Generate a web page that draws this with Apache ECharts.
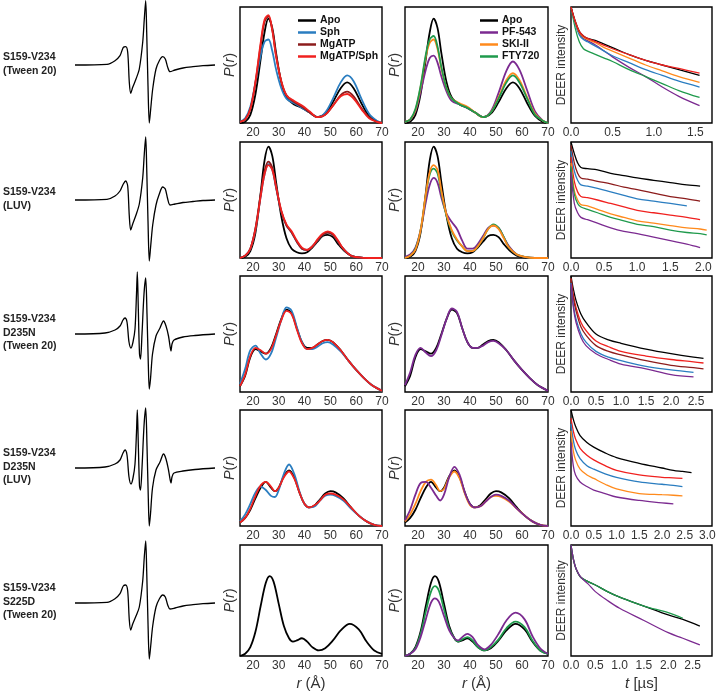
<!DOCTYPE html>
<html>
<head>
<meta charset="utf-8">
<script src="https://cdn.jsdelivr.net/npm/echarts@6/dist/echarts.min.js"></script>
<style>
  html, body { margin: 0; padding: 0; background: #fff; }
  #chart { width: 720px; height: 692px; }
</style>
</head>
<body>
<div id="chart"></div>
<script>
// ---- sample labels ----
const sampleLabels = [
  'S159-V234\n(Tween 20)',
  'S159-V234\n(LUV)',
  'S159-V234\nD235N\n(Tween 20)',
  'S159-V234\nD235N\n(LUV)',
  'S159-V234\nS225D\n(Tween 20)'
];

// ---- EPR spectra (field offset, intensity) ----
const eprField1 = [0, 32, 40, 45, 48.3, 50.7, 52.7, 54.3, 55.7, 57.7, 61, 64.3, 67.7, 69.3, 70.7, 71.7, 73, 74.3, 75.7, 77.7, 81, 84.3, 87.7, 90.3, 92.7, 95, 100, 108, 118, 128, 140];
const eprSig1 = [0, 0.7, 4.3, 9.3, 17.7, 18.3, 12.7, -17.3, -28.3, -22.3, -14, -4, 22.7, 46, 64.3, 32.7, -20.7, -58, -44, -24, -4, 4.3, 8.3, 6, -2.3, -6.7, -5, -3, -1.7, -0.7, 0];
const eprSig2 = [0, 0.7, 4, 9, 16, 19, 14, -16, -30, -24, -15, -4, 22, 46, 63, 32, -21, -61, -46, -25, -5, 6, 13, 11, 1, -5, -4, -2.5, -1.5, -0.5, 0];
const eprSig5 = [0, 0.7, 4.3, 9.3, 17, 18, 12, -17, -27, -21, -13, -4, 22, 46, 62, 32, -20, -56, -43, -23, -4, 4, 8, 6, -2, -6, -5, -3, -1.7, -0.7, 0];
const eprField3 = [0, 30, 40, 45, 48, 50, 52, 54, 56, 58, 60, 61.5, 62.3, 63.2, 64.5, 65.5, 67, 69, 70.7, 72, 73.3, 74.3, 75.5, 77.5, 81, 85, 88.5, 91, 93.5, 95, 96, 97, 99, 108, 120, 140];
const eprSig3 = [0, 1, 4, 8, 14, 16, 12, -8, -14, -8, 5, 40, 62, 30, -20, -25, 0, 40, 56, 20, -30, -55, -45, -20, -2, 6, 13, 8, -2, -12, -17, -10, -6, -3, -1.5, 0];
const eprSig4 = [0, 1, 4, 8, 15, 18, 13, -9, -16, -10, 4, 36, 58, 28, -18, -22, 0, 42, 60, 22, -30, -58, -46, -20, -2, 6, 14, 9, -2, -11, -15, -9, -5, -3, -1.5, 0];

// ---- distance distributions P(r) ----
const r1 = [15, 17, 19, 21, 23, 24.5, 26, 27.5, 29, 31, 33, 36, 39, 42, 45, 48, 51, 54, 56.5, 59, 62, 65, 68, 70];
const p1Apo = [0, 0.01, 0.07, 0.25, 0.55, 0.78, 0.90, 0.82, 0.60, 0.35, 0.22, 0.16, 0.13, 0.09, 0.05, 0.08, 0.18, 0.30, 0.35, 0.30, 0.17, 0.06, 0.01, 0];
const p1Sph = [0.01, 0.04, 0.14, 0.35, 0.58, 0.70, 0.72, 0.62, 0.46, 0.30, 0.21, 0.17, 0.13, 0.09, 0.05, 0.09, 0.21, 0.35, 0.41, 0.36, 0.21, 0.08, 0.02, 0];
const p1Atp = [0.01, 0.03, 0.12, 0.35, 0.67, 0.87, 0.92, 0.80, 0.58, 0.36, 0.24, 0.18, 0.14, 0.09, 0.05, 0.07, 0.15, 0.24, 0.27, 0.23, 0.13, 0.05, 0.01, 0];
const p1AtpSph = [0.01, 0.03, 0.12, 0.36, 0.69, 0.89, 0.93, 0.80, 0.57, 0.36, 0.24, 0.19, 0.15, 0.10, 0.05, 0.07, 0.15, 0.23, 0.25, 0.21, 0.12, 0.04, 0.01, 0];
const p1Pf = [0.01, 0.03, 0.10, 0.27, 0.46, 0.56, 0.58, 0.52, 0.40, 0.27, 0.19, 0.16, 0.13, 0.09, 0.05, 0.10, 0.26, 0.45, 0.53, 0.46, 0.28, 0.10, 0.02, 0];
const p1Ski = [0.01, 0.03, 0.11, 0.31, 0.57, 0.69, 0.72, 0.64, 0.47, 0.30, 0.21, 0.17, 0.14, 0.09, 0.05, 0.09, 0.22, 0.37, 0.43, 0.37, 0.22, 0.08, 0.02, 0];
const p1Fty = [0.01, 0.03, 0.12, 0.32, 0.59, 0.72, 0.75, 0.66, 0.48, 0.30, 0.21, 0.16, 0.13, 0.09, 0.05, 0.09, 0.21, 0.35, 0.41, 0.35, 0.21, 0.07, 0.02, 0];

const r2 = [15, 17, 19, 21, 23, 24.5, 26, 27.5, 29, 31, 33, 35, 37, 39, 41, 43, 45, 47, 49, 51, 53, 55, 58, 61, 65, 70];
const p2Apo = [0, 0.01, 0.06, 0.22, 0.56, 0.84, 0.96, 0.88, 0.65, 0.36, 0.17, 0.08, 0.05, 0.04, 0.05, 0.09, 0.14, 0.19, 0.20, 0.18, 0.12, 0.07, 0.02, 0.005, 0, 0];
const p2Sph = [0, 0.02, 0.08, 0.25, 0.53, 0.72, 0.81, 0.76, 0.60, 0.40, 0.28, 0.22, 0.14, 0.08, 0.07, 0.10, 0.15, 0.20, 0.22, 0.20, 0.14, 0.08, 0.02, 0.005, 0, 0];
const p2Atp = [0, 0.02, 0.08, 0.26, 0.55, 0.75, 0.83, 0.78, 0.61, 0.40, 0.28, 0.22, 0.14, 0.08, 0.07, 0.10, 0.15, 0.20, 0.22, 0.20, 0.14, 0.08, 0.02, 0.005, 0, 0];
const p2AtpSph = [0, 0.02, 0.08, 0.25, 0.53, 0.72, 0.80, 0.76, 0.61, 0.41, 0.29, 0.23, 0.15, 0.09, 0.07, 0.10, 0.16, 0.21, 0.23, 0.21, 0.15, 0.08, 0.02, 0.005, 0, 0];
const p2Pf = [0.01, 0.03, 0.09, 0.24, 0.48, 0.63, 0.69, 0.65, 0.52, 0.38, 0.31, 0.25, 0.15, 0.08, 0.08, 0.12, 0.19, 0.26, 0.28, 0.26, 0.18, 0.10, 0.03, 0.01, 0, 0];
const p2Ski = [0, 0.02, 0.07, 0.24, 0.55, 0.74, 0.80, 0.76, 0.58, 0.37, 0.24, 0.16, 0.10, 0.06, 0.06, 0.10, 0.17, 0.25, 0.28, 0.25, 0.17, 0.09, 0.03, 0.01, 0, 0];
const p2Fty = [0, 0.02, 0.08, 0.24, 0.54, 0.72, 0.77, 0.73, 0.56, 0.36, 0.23, 0.15, 0.10, 0.06, 0.06, 0.10, 0.17, 0.25, 0.29, 0.26, 0.18, 0.09, 0.03, 0.01, 0, 0];

const r3 = [15, 17, 19, 21, 23, 25, 27, 29, 31, 33, 35, 37, 39, 41, 43, 45, 47, 49, 51, 54, 57, 60, 63, 66, 70];
const p3Apo = [0.05, 0.14, 0.30, 0.37, 0.35, 0.33, 0.38, 0.50, 0.63, 0.71, 0.68, 0.55, 0.43, 0.38, 0.38, 0.41, 0.44, 0.45, 0.43, 0.36, 0.27, 0.19, 0.12, 0.06, 0.01];
const p3Sph = [0.07, 0.20, 0.36, 0.40, 0.33, 0.28, 0.33, 0.47, 0.62, 0.73, 0.70, 0.56, 0.43, 0.37, 0.37, 0.39, 0.42, 0.43, 0.41, 0.35, 0.27, 0.19, 0.12, 0.06, 0.01];
const p3AtpSph = [0.05, 0.15, 0.31, 0.38, 0.36, 0.33, 0.37, 0.49, 0.62, 0.70, 0.67, 0.54, 0.42, 0.37, 0.38, 0.41, 0.44, 0.45, 0.43, 0.36, 0.27, 0.19, 0.12, 0.06, 0.01];
const p3Pf = [0.06, 0.17, 0.32, 0.38, 0.34, 0.31, 0.36, 0.49, 0.63, 0.72, 0.69, 0.55, 0.43, 0.38, 0.38, 0.40, 0.43, 0.44, 0.42, 0.36, 0.27, 0.19, 0.12, 0.06, 0.01];

const r4 = [15, 17, 19, 21, 23, 25, 27, 28.5, 30, 32, 34, 36, 38, 40, 42, 44, 46, 48, 50, 52, 55, 58, 61, 64, 67, 70];
const p4Apo = [0.03, 0.07, 0.14, 0.24, 0.33, 0.38, 0.33, 0.30, 0.33, 0.43, 0.48, 0.42, 0.29, 0.19, 0.16, 0.18, 0.23, 0.28, 0.30, 0.29, 0.24, 0.16, 0.09, 0.04, 0.01, 0];
const p4Sph = [0.04, 0.10, 0.19, 0.29, 0.34, 0.31, 0.26, 0.25, 0.31, 0.45, 0.53, 0.45, 0.30, 0.19, 0.16, 0.17, 0.22, 0.26, 0.27, 0.26, 0.22, 0.15, 0.09, 0.04, 0.01, 0];
const p4AtpSph = [0.03, 0.07, 0.15, 0.26, 0.35, 0.38, 0.34, 0.30, 0.33, 0.42, 0.47, 0.41, 0.29, 0.19, 0.16, 0.18, 0.22, 0.27, 0.28, 0.27, 0.23, 0.16, 0.09, 0.04, 0.01, 0];
const p4Ski = [0.04, 0.10, 0.19, 0.30, 0.38, 0.40, 0.35, 0.30, 0.32, 0.42, 0.47, 0.41, 0.28, 0.18, 0.16, 0.17, 0.21, 0.25, 0.26, 0.25, 0.21, 0.15, 0.09, 0.04, 0.01, 0];
const p4Pf = [0.05, 0.14, 0.27, 0.37, 0.38, 0.33, 0.26, 0.22, 0.27, 0.42, 0.51, 0.44, 0.29, 0.19, 0.16, 0.17, 0.21, 0.25, 0.27, 0.26, 0.22, 0.15, 0.09, 0.04, 0.01, 0];

const r5 = [15, 17, 19, 21, 23, 25, 26.5, 28, 30, 32, 34, 35.5, 37, 39, 41, 43, 45.5, 48, 51, 54, 57.5, 61, 64, 67, 70];
const p5Apo = [0, 0.02, 0.08, 0.22, 0.45, 0.66, 0.72, 0.67, 0.47, 0.27, 0.16, 0.13, 0.14, 0.16, 0.13, 0.08, 0.05, 0.07, 0.14, 0.23, 0.29, 0.24, 0.13, 0.05, 0.02];
const p5Fty = [0, 0.02, 0.07, 0.20, 0.40, 0.58, 0.63, 0.59, 0.42, 0.25, 0.16, 0.13, 0.15, 0.17, 0.14, 0.08, 0.05, 0.08, 0.15, 0.25, 0.31, 0.26, 0.14, 0.05, 0.02];
const p5Pf = [0, 0.02, 0.06, 0.17, 0.33, 0.48, 0.52, 0.49, 0.36, 0.23, 0.16, 0.14, 0.17, 0.20, 0.17, 0.10, 0.06, 0.10, 0.20, 0.32, 0.39, 0.33, 0.18, 0.07, 0.02];

// ---- DEER traces (time in us, normalised echo) ----
const t1 = [0, 0.05, 0.1, 0.15, 0.2, 0.3, 0.4, 0.5, 0.7, 0.9, 1.1, 1.3, 1.55];
const d1Apo = [1.0, 0.88, 0.79, 0.75, 0.73, 0.71, 0.68, 0.65, 0.59, 0.54, 0.50, 0.46, 0.41];
const d1AtpSph = [1.0, 0.88, 0.79, 0.75, 0.73, 0.70, 0.67, 0.64, 0.59, 0.54, 0.50, 0.47, 0.43];
const d1Ski = [1.0, 0.87, 0.78, 0.74, 0.72, 0.69, 0.65, 0.62, 0.56, 0.50, 0.45, 0.40, 0.35];
const d1Sph = [1.0, 0.86, 0.76, 0.72, 0.70, 0.66, 0.62, 0.58, 0.52, 0.46, 0.41, 0.36, 0.31];
const d1Fty = [1.0, 0.82, 0.70, 0.64, 0.62, 0.59, 0.56, 0.53, 0.46, 0.40, 0.34, 0.28, 0.22];
const d1Pf = [1.0, 0.86, 0.77, 0.73, 0.71, 0.67, 0.62, 0.57, 0.48, 0.40, 0.31, 0.23, 0.15];

const t2 = [0, 0.05, 0.1, 0.15, 0.25, 0.4, 0.6, 0.8, 1.0, 1.25, 1.5, 1.75, 1.95, 2.05];
const d2Apo = [1.0, 0.90, 0.82, 0.78, 0.77, 0.76, 0.73, 0.71, 0.69, 0.67, 0.65, 0.63, 0.62];
const d2Atp = [0.97, 0.82, 0.73, 0.69, 0.68, 0.66, 0.64, 0.61, 0.59, 0.56, 0.53, 0.51, 0.49];
const d2Sph = [0.92, 0.75, 0.67, 0.63, 0.62, 0.60, 0.57, 0.54, 0.51, 0.49, 0.47, 0.45];
const d2AtpSph = [0.87, 0.66, 0.57, 0.53, 0.52, 0.50, 0.47, 0.44, 0.41, 0.39, 0.37, 0.35, 0.33];
const d2Ski = [0.82, 0.58, 0.50, 0.46, 0.45, 0.42, 0.38, 0.35, 0.32, 0.30, 0.28, 0.26, 0.25, 0.24];
const d2Fty = [0.79, 0.55, 0.47, 0.44, 0.42, 0.39, 0.35, 0.32, 0.29, 0.27, 0.24, 0.22, 0.21, 0.20];
const d2Pf = [0.74, 0.47, 0.39, 0.35, 0.33, 0.30, 0.26, 0.23, 0.21, 0.18, 0.15, 0.12, 0.09];

const t3 = [0, 0.05, 0.1, 0.2, 0.3, 0.5, 0.75, 1.0, 1.5, 2.0, 2.45, 2.65];
const d3Apo = [1.0, 0.88, 0.79, 0.67, 0.60, 0.50, 0.45, 0.42, 0.37, 0.33, 0.30, 0.29];
const d3AtpSph = [0.98, 0.83, 0.73, 0.60, 0.53, 0.44, 0.39, 0.35, 0.31, 0.28, 0.26, 0.25];
const d3Atp = [0.97, 0.80, 0.70, 0.56, 0.49, 0.40, 0.35, 0.32, 0.27, 0.23, 0.21, 0.20];
const d3Sph = [0.94, 0.74, 0.63, 0.50, 0.43, 0.35, 0.30, 0.27, 0.22, 0.19, 0.17];
const d3Pf = [0.93, 0.72, 0.60, 0.47, 0.40, 0.33, 0.28, 0.24, 0.20, 0.15, 0.13];

const t4 = [0, 0.05, 0.1, 0.2, 0.35, 0.5, 0.75, 1.0, 1.5, 2.0, 2.25, 2.45, 2.65];
const d4Apo = [1.0, 0.92, 0.86, 0.78, 0.72, 0.68, 0.63, 0.59, 0.54, 0.50, 0.48, 0.47, 0.46];
const d4AtpSph = [0.93, 0.82, 0.75, 0.67, 0.61, 0.57, 0.52, 0.48, 0.44, 0.42, 0.415, 0.41];
const d4Sph = [0.88, 0.74, 0.66, 0.58, 0.52, 0.49, 0.45, 0.42, 0.38, 0.36, 0.35, 0.34];
const d4Ski = [0.82, 0.65, 0.57, 0.49, 0.44, 0.41, 0.36, 0.32, 0.28, 0.27, 0.265, 0.26];
const d4Pf = [0.72, 0.52, 0.44, 0.38, 0.34, 0.31, 0.28, 0.25, 0.22, 0.20, 0.19];

const t5 = [0, 0.05, 0.1, 0.2, 0.35, 0.5, 0.75, 1.0, 1.5, 2.0, 2.3, 2.65];
const d5Apo = [1.0, 0.87, 0.79, 0.71, 0.67, 0.64, 0.58, 0.53, 0.45, 0.37, 0.33, 0.27];
const d5Fty = [1.0, 0.87, 0.79, 0.71, 0.67, 0.64, 0.58, 0.53, 0.45, 0.39, 0.34];
const d5Pf = [1.0, 0.87, 0.79, 0.71, 0.65, 0.58, 0.50, 0.43, 0.32, 0.21, 0.16, 0.10];

const deerMax = [1.7, 2.13, 2.82, 3.1, 2.9];
const deerTicks = [[0, 0.5, 1.0, 1.5], [0, 0.5, 1.0, 1.5, 2.0], [0, 0.5, 1.0, 1.5, 2.0, 2.5], [0, 0.5, 1.0, 1.5, 2.0, 2.5, 3.0], [0, 0.5, 1.0, 1.5, 2.0, 2.5]];
const rTicks = [20, 30, 40, 50, 60, 70];

const colors = {
  'Apo': '#000000', 'Sph': '#2a7dc0', 'MgATP': '#8c1c1c', 'MgATP/Sph': '#f0211f',
  'PF-543': '#7b2a90', 'SKI-II': '#ff8a1c', 'FTY720': '#1f9a4c'
};

const zip = (xs, ys) => ys.map((v, i) => [xs[i], v]);

const chart = echarts.init(document.getElementById('chart'));
const rowTop = [7, 142, 276, 410, 545];
const rowH = 116;
const fontFam = 'Liberation Sans, Arial, Helvetica, sans-serif';

const grids = [], xAxes = [], yAxes = [], series = [], graphics = [];

function addGrid(left, width, top, height, show) {
  grids.push({ left: left, top: top, width: width, height: height, show: show, borderColor: '#000', borderWidth: 1.4, backgroundColor: 'transparent' });
  return grids.length - 1;
}

function line(gi, name, data, width) {
  series.push({
    name: name, type: 'line', xAxisIndex: gi, yAxisIndex: gi, data: data,
    showSymbol: false, smooth: 0.35, silent: true,
    lineStyle: { color: colors[name], width: width }, itemStyle: { color: colors[name] }
  });
}

const eprRows = [[eprField1, eprSig1], [eprField1, eprSig2], [eprField3, eprSig3], [eprField3, eprSig4], [eprField1, eprSig5]];
const prRows = [
  { r: r1, c2: { 'Apo': p1Apo, 'Sph': p1Sph, 'MgATP': p1Atp, 'MgATP/Sph': p1AtpSph }, c3: { 'Apo': p1Apo, 'PF-543': p1Pf, 'SKI-II': p1Ski, 'FTY720': p1Fty } },
  { r: r2, c2: { 'Apo': p2Apo, 'Sph': p2Sph, 'MgATP': p2Atp, 'MgATP/Sph': p2AtpSph }, c3: { 'Apo': p2Apo, 'PF-543': p2Pf, 'FTY720': p2Fty, 'SKI-II': p2Ski } },
  { r: r3, c2: { 'Apo': p3Apo, 'Sph': p3Sph, 'MgATP/Sph': p3AtpSph }, c3: { 'Apo': p3Apo, 'PF-543': p3Pf } },
  { r: r4, c2: { 'Apo': p4Apo, 'Sph': p4Sph, 'MgATP/Sph': p4AtpSph }, c3: { 'Apo': p4Apo, 'SKI-II': p4Ski, 'PF-543': p4Pf } },
  { r: r5, c2: { 'Apo': p5Apo }, c3: { 'Apo': p5Apo, 'FTY720': p5Fty, 'PF-543': p5Pf } }
];
const deerRows = [
  { t: t1, d: { 'PF-543': d1Pf, 'FTY720': d1Fty, 'Sph': d1Sph, 'SKI-II': d1Ski, 'Apo': d1Apo, 'MgATP/Sph': d1AtpSph } },
  { t: t2, d: { 'Apo': d2Apo, 'MgATP': d2Atp, 'Sph': d2Sph, 'MgATP/Sph': d2AtpSph, 'SKI-II': d2Ski, 'FTY720': d2Fty, 'PF-543': d2Pf } },
  { t: t3, d: { 'Apo': d3Apo, 'MgATP/Sph': d3AtpSph, 'MgATP': d3Atp, 'Sph': d3Sph, 'PF-543': d3Pf } },
  { t: t4, d: { 'Apo': d4Apo, 'MgATP/Sph': d4AtpSph, 'Sph': d4Sph, 'SKI-II': d4Ski, 'PF-543': d4Pf } },
  { t: t5, d: { 'Apo': d5Apo, 'FTY720': d5Fty, 'PF-543': d5Pf } }
];

const tickLabel = { color: '#333', fontSize: 12, fontFamily: fontFam, margin: 4 };
const italicName = function (size) {
  return { fontSize: size, color: '#333', fontFamily: fontFam, rich: { i: { fontStyle: 'italic', fontSize: size, color: '#333', fontFamily: fontFam } } };
};

for (let row = 0; row < 5; row++) {
  const top = rowTop[row];
  const mid = top + rowH / 2;
  const last = row === 4;

  // EPR spectrum (no axes)
  let gi = addGrid(75, 140, mid - 65, 130, false);
  xAxes.push({ gridIndex: gi, type: 'value', min: 0, max: 140, show: false });
  yAxes.push({ gridIndex: gi, type: 'value', min: -65, max: 65, show: false });
  series.push({
    type: 'line', xAxisIndex: gi, yAxisIndex: gi, data: zip(eprRows[row][0], eprRows[row][1]),
    showSymbol: false, smooth: 0.3, silent: true, lineStyle: { color: '#000', width: 1.3 }
  });

  graphics.push({
    type: 'text', left: 3, top: mid - (sampleLabels[row].split('\n').length * 13.5) / 2 - 1,
    style: { text: sampleLabels[row], font: 'bold 10.5px ' + fontFam, fill: '#222', lineHeight: 13.5 }
  });

  // P(r) panels
  [[240, 142, 'c2'], [405, 143, 'c3']].forEach(function (c) {
    gi = addGrid(c[0], c[1], top, rowH, true);
    xAxes.push({
      gridIndex: gi, type: 'value', min: 15, max: 70,
      axisLine: { show: false }, splitLine: { show: false },
      axisTick: { show: false },
      axisLabel: Object.assign({ customValues: rTicks }, tickLabel),
      name: last ? '{i|r} (Å)' : '', nameLocation: 'middle', nameGap: 20,
      nameTextStyle: italicName(15)
    });
    yAxes.push({
      gridIndex: gi, type: 'value', min: 0, max: 1,
      axisLine: { show: false }, axisTick: { show: false }, axisLabel: { show: false }, splitLine: { show: false },
      name: '{i|P}({i|r})', nameLocation: 'middle', nameGap: 3,
      nameTextStyle: italicName(14.5)
    });
    const set = prRows[row][c[2]];
    Object.keys(set).forEach(function (k) { line(gi, k, zip(prRows[row].r, set[k]), 1.8); });
  });

  // DEER panel
  gi = addGrid(571, 141, top, rowH, true);
  xAxes.push({
    gridIndex: gi, type: 'value', min: 0, max: deerMax[row],
    axisLine: { show: false }, splitLine: { show: false }, axisTick: { show: false },
    axisLabel: Object.assign({ customValues: deerTicks[row], formatter: function (v) { return v.toFixed(1); } }, tickLabel),
    name: last ? '{i|t} [µs]' : '', nameLocation: 'middle', nameGap: 20,
    nameTextStyle: italicName(15)
  });
  yAxes.push({
    gridIndex: gi, type: 'value', min: 0, max: 1,
    axisLine: { show: false }, axisTick: { show: false }, axisLabel: { show: false }, splitLine: { show: false },
    name: 'DEER intensity', nameLocation: 'middle', nameGap: 3,
    nameTextStyle: { fontSize: 12, color: '#333', fontFamily: fontFam }
  });
  const dset = deerRows[row].d;
  Object.keys(dset).forEach(function (k) { line(gi, k, zip(deerRows[row].t, dset[k]), 1.3); });
}

const legendBase = {
  orient: 'vertical', icon: 'rect', itemWidth: 18, itemHeight: 2.5, itemGap: 1, selectedMode: false,
  textStyle: { fontSize: 10.5, fontWeight: 'bold', color: '#111', fontFamily: fontFam, padding: [0, 0, 0, -1], lineHeight: 10 }
};

chart.setOption({
  animation: false,
  backgroundColor: '#fff',
  grid: grids,
  xAxis: xAxes,
  yAxis: yAxes,
  legend: [
    Object.assign({ left: 293, top: 10, data: ['Apo', 'Sph', 'MgATP', 'MgATP/Sph'] }, legendBase),
    Object.assign({ left: 475, top: 10, data: ['Apo', 'PF-543', 'SKI-II', 'FTY720'] }, legendBase)
  ],
  graphic: graphics,
  series: series
});
</script>
</body>
</html>
